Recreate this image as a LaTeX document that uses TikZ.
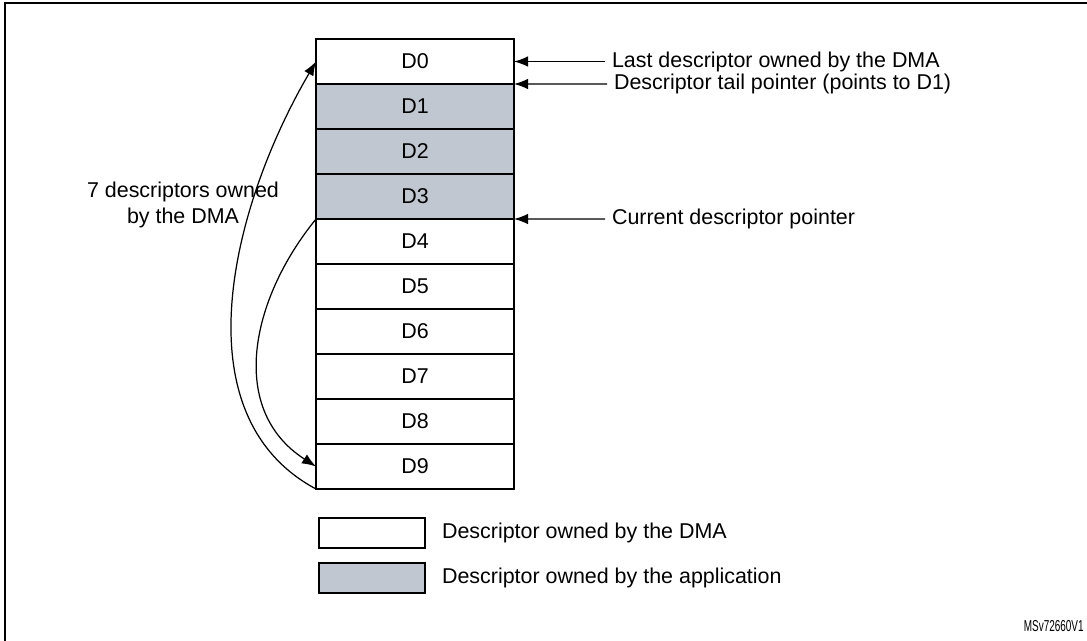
\documentclass[tikz,border=0pt]{standalone}
\usepackage{fontspec}
\setmainfont{Liberation Sans}
\usetikzlibrary{arrows.meta,positioning,calc}
\definecolor{appgray}{RGB}{192,199,209}

\tikzset{
  desc/.style={draw, line width=0.8pt, minimum width=3.96cm, minimum height=0.9cm, inner sep=0pt, outer sep=0pt},
  lbl/.style={anchor=west, inner sep=0pt, outer sep=4pt},
  ptr/.style={line width=0.7pt, -{Latex[length=8pt,width=6pt]}},
}

\begin{document}
\begin{tikzpicture}[x=0.02cm, y=-0.02cm, font=\fontsize{12.2}{14.8}\selectfont]
  \useasboundingbox (0,0) rectangle (1087,640);

  % Frame
  \draw[line width=1.2pt] (5,650) -- (5,3) -- (1095,3);

  % Descriptor ring
  \foreach \i/\c in {0/white, 1/appgray, 2/appgray, 3/appgray, 4/white, 5/white, 6/white, 7/white, 8/white, 9/white} {
    \node[desc, fill=\c] (d\i) at (415,61.5+45*\i) {D\i};
  }

  % Pointers
  \node[lbl] (lastlbl) at (605,61.5) {Last descriptor owned by the DMA};
  \node[lbl] (taillbl) at (607,84) {Descriptor tail pointer (points to D1)};
  \node[lbl] (currlbl) at (605,219) {Current descriptor pointer};
  \draw[ptr] (lastlbl.west) -- (d0.east);
  \draw[ptr] (taillbl.west) -- (d0.south east);
  \draw[ptr] (currlbl.west) -- (d3.south east);

  % Owned by the DMA
  \node[align=center] (ownlbl) at (183,205) {7 descriptors owned\\by the DMA};
  \draw[ptr] (d9.south west) .. controls (178,415) and (232,205) .. (d0.west);
  \draw[ptr] (d4.north west) .. controls (250,300) and (228,410) .. (d9.west);

  % Legend
  \node[desc, minimum width=2.12cm, minimum height=0.6cm] (keydma) at (372,533) {};
  \node[desc, fill=appgray, minimum width=2.12cm, minimum height=0.6cm] (keyapp) at (372,578) {};
  \node[right=7pt of keydma, inner sep=2.5pt] (keydmatxt) {Descriptor owned by the DMA};
  \node[right=7pt of keyapp, inner sep=2.5pt] (keyapptxt) {Descriptor owned by the application};

  \node[anchor=base east, inner sep=0pt, font=\fontsize{9}{10}\selectfont] (docid) at (1084,631) {\scalebox{0.63}[1]{MSv72660V1}};
\end{tikzpicture}
\end{document}
